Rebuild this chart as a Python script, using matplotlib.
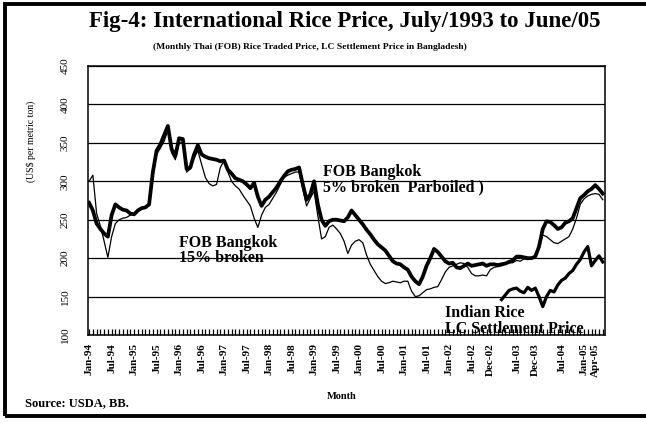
import numpy as np
import pandas as pd
import matplotlib
matplotlib.use('Agg')
import matplotlib.pyplot as plt
from matplotlib.patches import Rectangle

plt.rcParams['font.family'] = ['Liberation Serif', 'DejaVu Serif']

# monthly categories, Jan-94 .. Jun-05
months = pd.date_range('1994-01-01', periods=138, freq='MS')
tick_labels = ['Jan-94', 'Jul-94', 'Jan-95', 'Jul-95', 'Jan-96', 'Jul-96', 'Jan-97', 'Jul-97',
               'Jan-98', 'Jul-98', 'Jan-99', 'Jul-99', 'Jan-00', 'Jul-00', 'Jan-01', 'Jul-01',
               'Jan-02', 'Jul-02', 'Dec-02', 'Jul-03', 'Dec-03', 'Jul-04', 'Jan-05', 'Apr-05']

# FOB Bangkok 5% broken (Parboiled)  (US$/t)
fob_5pct = [272, 262, 245, 238, 232, 228, 256, 270, 266, 263, 262, 258,
            257, 262, 265, 266, 270, 312, 340, 348, 360, 372, 342, 333,
            356, 355, 316, 318, 335, 347, 335, 332, 330, 329, 328, 326,
            327, 315, 310, 304, 302, 300, 296, 291, 298, 280, 268, 276,
            280, 286, 292, 300, 307, 313, 315, 316, 318, 296, 276, 283,
            300, 270, 250, 242, 248, 250, 250, 249, 248, 253, 262, 256,
            250, 244, 237, 231, 224, 218, 214, 210, 203, 196, 193, 192,
            188, 185, 176, 170, 166, 176, 190, 200, 212, 208, 202, 196,
            193, 194, 188, 187, 190, 193, 190, 191, 192, 193, 190, 192,
            192, 191, 192, 193, 195, 197, 202, 202, 201, 200, 200, 202,
            215, 238, 248, 247, 243, 238, 240, 246, 248, 252, 265, 278,
            282, 287, 290, 295, 290, 284]

# FOB Bangkok 15% broken
fob_15pct = [300, 308, 258, 242, 222, 201, 228, 245, 250, 252, 253, 256,
             258, 262, 264, 266, 268, 305, 335, 343, 352, 366, 337, 328,
             350, 350, 312, 316, 330, 340, 322, 305, 297, 294, 296, 318,
             327, 312, 300, 294, 290, 282, 275, 268, 252, 240, 256, 266,
             270, 278, 286, 296, 305, 308, 310, 312, 312, 290, 268, 278,
             287, 255, 225, 228, 240, 243, 238, 232, 222, 206, 217, 222,
             224, 220, 204, 192, 184, 176, 170, 167, 168, 170, 169, 168,
             170, 170, 157, 150, 151, 155, 159, 160, 162, 163, 172, 182,
             188, 190, 192, 194, 193, 188, 180, 177, 177, 178, 177, 185,
             188, 189, 190, 192, 194, 194, 197, 196, 199, 198, 199, 203,
             214, 230, 228, 224, 220, 219, 222, 225, 228, 238, 252, 270,
             277, 281, 283, 284, 283, 276]

# Indian rice, LC settlement price in Bangladesh (from Mar-03)
lc_start = 110
lc_india = [146, 152, 158, 160, 161, 157, 155, 162, 158, 161, 150, 137,
            150, 158, 156, 165, 171, 174, 180, 184, 192, 198, 208, 215,
            190, 197, 203, 195]

x = np.arange(len(months))
lc = np.full(len(months), np.nan)
lc[lc_start:lc_start + len(lc_india)] = lc_india

fig = plt.figure(figsize=(6.46, 4.23), dpi=100)
ax = fig.add_axes([88 / 646, 1 - 335 / 423, 517 / 646, 269 / 423])

ax.plot(x, fob_15pct, color='black', lw=0.9, zorder=3)
ax.plot(x, fob_5pct, color='black', lw=2.7, zorder=4)
ax.plot(x, lc, color='black', lw=2.3, zorder=4)

ax.set_xlim(-0.3, 137.6)
ax.set_ylim(100, 450)
ax.set_yticks(np.arange(100, 451, 50))
ax.yaxis.grid(True, color='black', lw=0.9)
ax.set_axisbelow(True)
ax.tick_params(axis='y', length=0, pad=13, labelsize=8)
for lab in ax.get_yticklabels():
    lab.set_rotation(90)
    lab.set_va('center')

labels_str = list(months.strftime('%b-%y'))
tick_pos = [labels_str.index(t) for t in tick_labels]
ax.set_xticks(tick_pos)
ax.set_xticklabels(tick_labels, rotation=90, fontsize=8, fontweight='bold')
ax.set_xticks(x, minor=True)
ax.tick_params(axis='x', which='both', direction='in', length=4.5, width=0.9, pad=6)

for s in ax.spines.values():
    s.set_linewidth(1.1)
    s.set_color('black')

ax.set_ylabel('(US$ per metric ton)', fontsize=7)
ax.yaxis.set_label_coords(-0.1, 0.72)

txt = dict(fontsize=11.5, fontweight='bold', va='center', ha='left', linespacing=0.95, zorder=5)
ax.text(62.5, 302, 'FOB Bangkok\n5% broken  Parboiled )', **txt)
ax.text(24, 210, 'FOB Bangkok\n15% broken', **txt)
ax.text(95, 118, 'Indian Rice\nLC Settlement Price', **txt)

fig.text(0.534, 1 - 22 / 423, 'Fig-4: International Rice Price, July/1993 to June/05',
         ha='center', va='center', fontsize=16.5, fontweight='bold')
fig.text(0.48, 1 - 47 / 423,
         '(Monthly Thai (FOB) Rice Traded Price, LC Settlement Price in Bangladesh)',
         ha='center', va='center', fontsize=6.8, fontweight='bold')
fig.text(342 / 646, 1 - 396 / 423, 'Month', ha='center', va='center', fontsize=7.5, fontweight='bold')
fig.text(25 / 646, 1 - 403 / 423, 'Source: USDA, BB.', ha='left', va='center', fontsize=9, fontweight='bold')

# outer frame
fig.patches.append(Rectangle((5 / 646, 1 - 416 / 423), 1.05, 412 / 423, transform=fig.transFigure,
                             fill=False, edgecolor='black', lw=2.8, clip_on=False))

fig.savefig('out.png', dpi=100)
